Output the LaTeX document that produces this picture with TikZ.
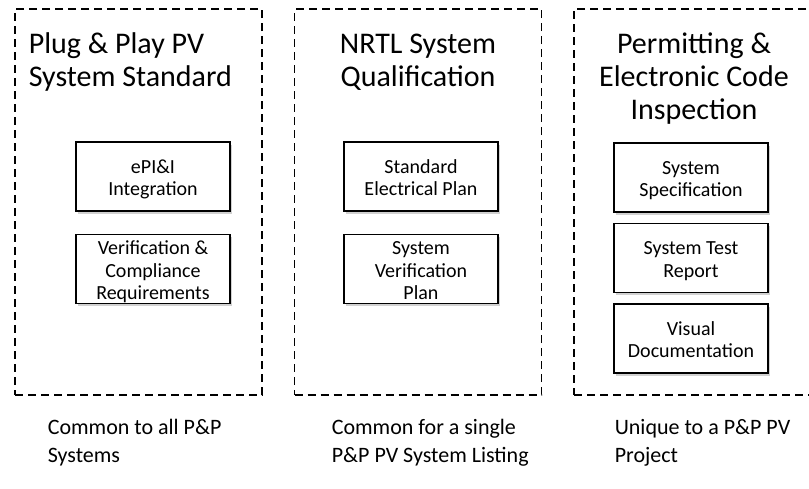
\documentclass[tikz,border=0pt]{standalone}
\usepackage{fontspec}
\setmainfont{Carlito}
\usetikzlibrary{positioning,shadows}

\begin{document}
\begin{tikzpicture}[x=1pt, y=-1pt, node distance=22pt, line width=1.6pt]
  \tikzstyle{group}=[draw, dash pattern=on 8pt off 5pt, minimum width=247pt, minimum height=386pt]
  \tikzstyle{item}=[draw, align=center, inner sep=0pt, minimum width=154pt, minimum height=69pt, fill=white, font=\fontsize{20}{22.5}\selectfont, text height=38.5pt, text depth=0pt, drop shadow={shadow xshift=1.5pt, shadow yshift=-2.5pt, opacity=0.3, fill=black!60}]
  \tikzstyle{head}=[inner sep=0pt, font=\fontsize{30}{33}\selectfont, text height=56pt]
  \tikzstyle{note}=[inner sep=0pt, align=left, font=\fontsize{22}{28}\selectfont, text height=48pt]
  \useasboundingbox (0,0) rectangle (809,488);

  \node[group] (g1) at (138.5,202) {};
  \node[group] (g2) at (418,202) {};
  \node[group, minimum width=248pt] (g3) at (698,202) {};

  \node[head, anchor=north west, align=left] (t1) at (28,30) {Plug \& Play PV\\System Standard};
  \node[head, anchor=north, align=center] (t2) at (418,30) {NRTL System\\Qualification};
  \node[head, anchor=north, align=center, text height=89pt] (t3) at (694,30) {Permitting \&\\Electronic Code\\Inspection};

  \node[item] (a1) at (153,176.5) {ePI\&I\\Integration};
  \node[item, below=of a1, text height=61pt] (a2) {Verification \&\\Compliance\\Requirements};

  \node[item] (b1) at (421,176.5) {Standard\\Electrical Plan};
  \node[item, below=of b1, text height=61pt] (b2) {System\\Verification\\Plan};

  \node[item] (c1) at (691,177.5) {System\\Specification};
  \node[item, below=10pt of c1] (c2) {System Test\\Report};
  \node[item, below=10pt of c2] (c3) {Visual\\Documentation};

  \node[note, anchor=north west] (n1) at (47,414) {Common to all P\&P\\Systems};
  \node[note, anchor=north west] (n2) at (331,414) {Common for a single\\P\&P PV System Listing};
  \node[note, anchor=north west] (n3) at (614,414) {Unique to a P\&P PV\\Project};
\end{tikzpicture}
\end{document}
